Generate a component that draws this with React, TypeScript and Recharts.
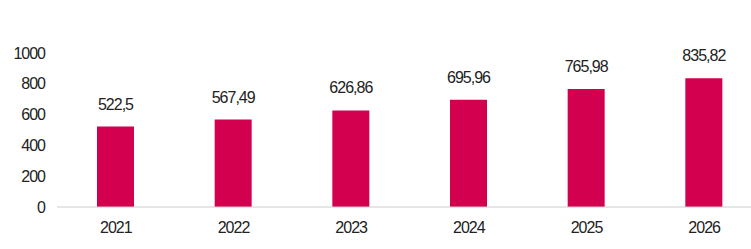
import React from "react";
import { BarChart, Bar, XAxis, YAxis, LabelList } from "recharts";

const years = ["2021", "2022", "2023", "2024", "2025", "2026"];
const values = [522.5, 567.49, 626.86, 695.96, 765.98, 835.82];
const valueLabels = ["522,5", "567,49", "626,86", "695,96", "765,98", "835,82"];
const yTicks = [0, 200, 400, 600, 800, 1000];

const data = years.map((y, i) => ({ year: y, value: values[i], label: valueLabels[i] }));

const font = { fontFamily: "'Liberation Sans', Arial, sans-serif", fontSize: 16, fill: "#222", letterSpacing: -1 };

export default function App() {
  return (
    <div style={{ position: "absolute", left: 0, top: 0, width: 751, height: 249, overflow: "hidden", background: "#fff" }}>
      <BarChart width={770} height={249} data={data} margin={{ top: 53, right: 7, bottom: 0, left: 0 }} barSize={37}>
        <XAxis
          dataKey="year"
          axisLine={{ stroke: "#cccccc" }}
          tickLine={false}
          tickSize={0}
          tickMargin={15}
          height={42}
          tick={font}
          interval={0}
        />
        <YAxis
          domain={[0, 1000]}
          ticks={yTicks}
          axisLine={false}
          tickLine={false}
          tickSize={0}
          tickMargin={12}
          width={57}
          tick={font}
          interval={0}
        />
        <Bar dataKey="value" fill="#d2004f" isAnimationActive={false}>
          <LabelList dataKey="label" position="top" offset={17} style={font} />
        </Bar>
      </BarChart>
    </div>
  );
}
